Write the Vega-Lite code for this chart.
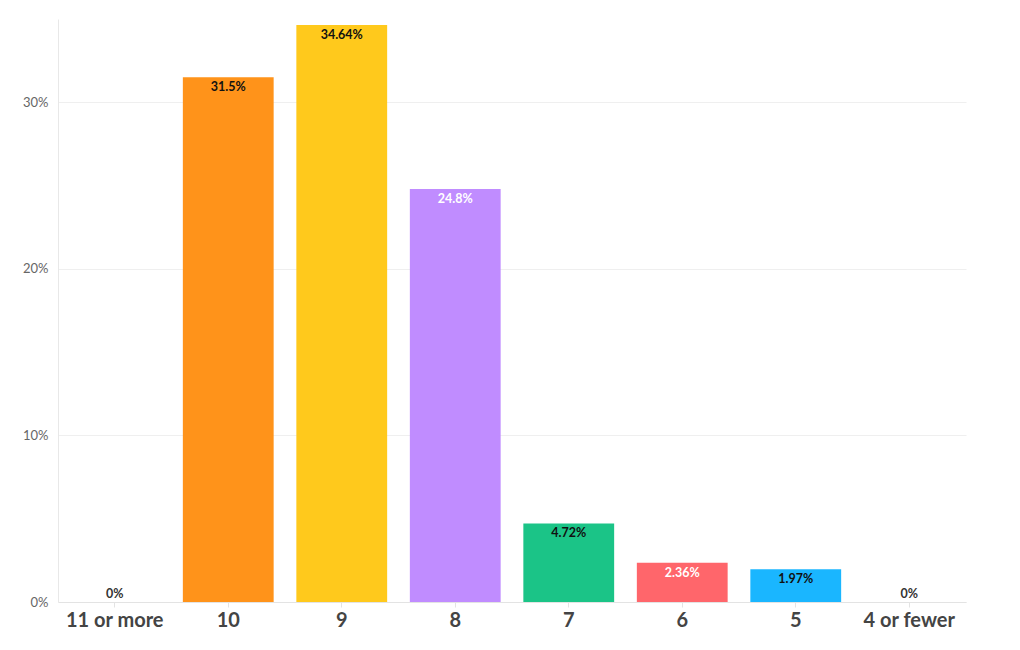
{
  "$schema": "https://vega.github.io/schema/vega-lite/v6.json",
  "width": 908,
  "height": 583,
  "autosize": {"type": "none"},
  "padding": {"left": 58, "top": 19, "right": 54, "bottom": 48},
  "background": "white",
  "config": {"view": {"stroke": null}, "font": "Lato"},
  "data": {
    "values": [
      {"cat": "11 or more", "value": 0, "label": "0%"},
      {"cat": "10", "value": 0.315, "label": "31.5%"},
      {"cat": "9", "value": 0.3464, "label": "34.64%"},
      {"cat": "8", "value": 0.248, "label": "24.8%"},
      {"cat": "7", "value": 0.0472, "label": "4.72%"},
      {"cat": "6", "value": 0.0236, "label": "2.36%"},
      {"cat": "5", "value": 0.0197, "label": "1.97%"},
      {"cat": "4 or fewer", "value": 0, "label": "0%"}
    ]
  },
  "encoding": {
    "x": {
      "field": "cat",
      "type": "nominal",
      "sort": null,
      "scale": {"paddingInner": 0.2, "paddingOuter": 0.1},
      "axis": {
        "title": null,
        "labelAngle": 0,
        "labelFontSize": 20,
        "labelFontWeight": "bold",
        "labelColor": "#444444",
        "labelPadding": 3,
        "ticks": true,
        "tickSize": 5,
        "tickColor": "#e3e3e3",
        "domainColor": "#e3e3e3",
        "grid": false
      }
    },
    "y": {
      "field": "value",
      "type": "quantitative",
      "scale": {"domain": [0, 0.35], "nice": false},
      "axis": {
        "title": null,
        "values": [0, 0.1, 0.2, 0.3],
        "format": ".0%",
        "ticks": false,
        "labelPadding": 10,
        "labelFontSize": 13,
        "labelColor": "#666666",
        "gridColor": "#efefef",
        "domainColor": "#e8e8e8"
      }
    }
  },
  "layer": [
    {
      "mark": {"type": "bar"},
      "encoding": {
        "color": {
          "field": "cat",
          "type": "nominal",
          "legend": null,
          "scale": {
            "domain": ["11 or more", "10", "9", "8", "7", "6", "5", "4 or fewer"],
            "range": ["#999999", "#FF931A", "#FFC91C", "#C08CFF", "#1BC487", "#FF666B", "#1AB6FF", "#999999"]
          }
        }
      }
    },
    {
      "transform": [{"filter": "datum.value > 0"}],
      "mark": {"type": "text", "baseline": "top", "dy": 4, "fontSize": 12.5, "fontWeight": "bold"},
      "encoding": {
        "text": {"field": "label"},
        "color": {
          "condition": {"test": "datum.cat == '8' || datum.cat == '6'", "value": "#ffffff"},
          "value": "#111111"
        }
      }
    },
    {
      "transform": [{"filter": "datum.value == 0"}],
      "mark": {"type": "text", "baseline": "bottom", "dy": -1, "fontSize": 12.5, "fontWeight": "bold", "color": "#333333"},
      "encoding": {
        "text": {"field": "label"}
      }
    }
  ]
}
